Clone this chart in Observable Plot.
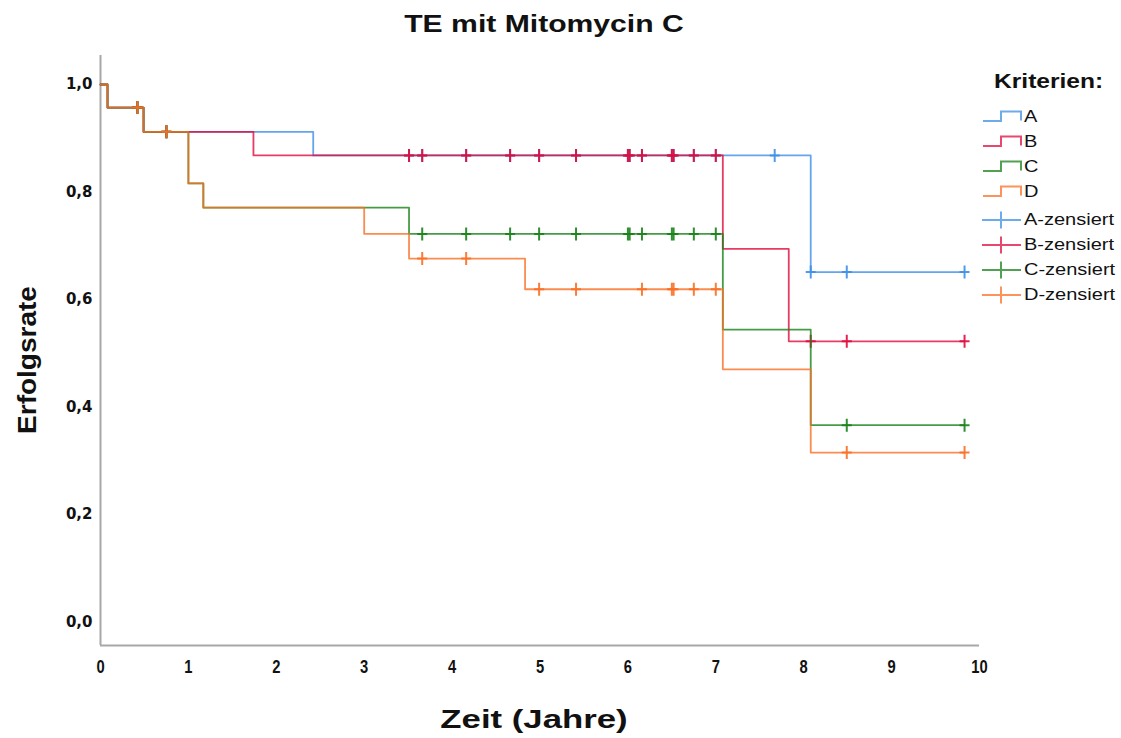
<!DOCTYPE html>
<html><head><meta charset="utf-8">
<script src="https://cdn.jsdelivr.net/npm/d3@7"></script>
<script src="https://cdn.jsdelivr.net/npm/@observablehq/plot@0.6"></script>
<style>
body{margin:0;background:#fff;}
#wrap{position:relative;width:1121px;height:738px;overflow:hidden;background:#fff;font-family:"Liberation Sans",Arial,sans-serif;}
.txt{position:absolute;white-space:nowrap;line-height:1;color:#111;}
#chart{position:absolute;left:0;top:45px;}
</style></head><body>
<div id="wrap"><div id="chart"></div></div>
<script>
// ---- data ----
const SERIES = ["A", "B", "C", "D"];
const COLORS = ["#3d8fe6", "#e00b3d", "#188218", "#f96f24"];
const LEGEND_LABELS = ["A", "B", "C", "D", "A-zensiert", "B-zensiert", "C-zensiert", "D-zensiert"];
const X_TICKS = [0, 1, 2, 3, 4, 5, 6, 7, 8, 9, 10];
const Y_TICKS = [0, 0.2, 0.4, 0.6, 0.8, 1.0];

const A_TIME = [0, 0.08, 0.49, 2.42, 8.08, 9.83];
const A_SURV = [1.000, 0.957, 0.912, 0.868, 0.651, 0.651];
const A_CENS = [0.42, 0.75, 3.51, 3.66, 4.16, 4.66, 4.99, 5.41, 6.00, 6.02, 6.16, 6.50, 6.52, 6.75, 7.00, 7.67, 8.08, 8.49, 9.83];

const B_TIME = [0, 0.08, 0.49, 1.74, 7.08, 7.83, 9.83];
const B_SURV = [1.000, 0.957, 0.912, 0.868, 0.694, 0.522, 0.522];
const B_CENS = [0.42, 0.75, 3.51, 3.66, 4.16, 4.66, 4.99, 5.41, 6.00, 6.02, 6.16, 6.50, 6.52, 6.75, 7.00, 8.08, 8.49, 9.83];

const C_TIME = [0, 0.08, 0.49, 1.00, 1.17, 3.51, 7.08, 8.08, 9.83];
const C_SURV = [1.000, 0.957, 0.912, 0.816, 0.771, 0.722, 0.544, 0.366, 0.366];
const C_CENS = [0.42, 0.75, 3.66, 4.16, 4.66, 4.99, 5.41, 6.00, 6.02, 6.16, 6.50, 6.52, 6.75, 7.00, 8.49, 9.83];

const D_TIME = [0, 0.08, 0.49, 1.00, 1.17, 3.00, 3.51, 4.83, 7.08, 8.08, 9.83];
const D_SURV = [1.000, 0.957, 0.912, 0.816, 0.771, 0.722, 0.676, 0.619, 0.470, 0.315, 0.315];
const D_CENS = [0.42, 0.75, 3.66, 4.16, 4.99, 5.41, 6.16, 6.50, 6.52, 6.75, 7.00, 8.49, 9.83];

const Y_DOMAIN = [-0.044, 1.054];
const X_DOMAIN = [0, 10];

// ---- helpers ----
const TIMES = {A: A_TIME, B: B_TIME, C: C_TIME, D: D_TIME};
const SURVS = {A: A_SURV, B: B_SURV, C: C_SURV, D: D_SURV};
const CENS = {A: A_CENS, B: B_CENS, C: C_CENS, D: D_CENS};
const survAt = (T, S, t) => { let v = S[0]; for (let i = 0; i < T.length; i++) if (T[i] <= t) v = S[i]; return v; };
const stepRows = s => TIMES[s].map((t, i) => ({series: s, t, v: SURVS[s][i]}));
const censRows = s => CENS[s].map(t => ({series: s, t, v: survAt(TIMES[s], SURVS[s], t)}));
const plusSymbol = {draw(ctx) { ctx.moveTo(-5, 0); ctx.lineTo(5, 0); ctx.moveTo(0, -6.5); ctx.lineTo(0, 6.5); }};
const fmt = d => d.toFixed(1).replace(".", ",");

const marks = [
  Plot.ruleX([X_DOMAIN[0]], {stroke: "#a8a8a8", strokeWidth: 2}),
  Plot.ruleY([Y_DOMAIN[0]], {stroke: "#a8a8a8", strokeWidth: 2}),
  // tick labels drawn as text marks through the scales
  Plot.text(Y_TICKS, {x: X_DOMAIN[0], y: d => d, text: fmt, dx: -8, textAnchor: "end",
    fontSize: 15, fontWeight: "bold", fontFamily: "DejaVu Sans", fill: "#111"}),
  Plot.text(X_TICKS, {x: d => d, y: Y_DOMAIN[0], text: d => String(d), dy: 22,
    fontSize: 18, fontWeight: "bold", fontFamily: "Liberation Sans", fill: "#111"})
];
SERIES.forEach((s, i) => {
  marks.push(Plot.line(stepRows(s), {x: "t", y: "v", curve: "step-after", stroke: COLORS[i], strokeWidth: 1.8, strokeOpacity: 0.8}));
  marks.push(Plot.dot(censRows(s), {x: "t", y: "v", symbol: plusSymbol, fill: "none", stroke: COLORS[i], strokeWidth: 2, strokeOpacity: 0.9}));
});

const chart = Plot.plot({
  width: 990, height: 693,
  marginTop: 10, marginBottom: 93, marginLeft: 100, marginRight: 11,
  x: {domain: X_DOMAIN, axis: null},
  y: {domain: Y_DOMAIN, axis: null},
  style: {fontFamily: "Liberation Sans, Arial, sans-serif", color: "#111", background: "transparent", overflow: "visible"},
  marks
});
document.getElementById("chart").appendChild(chart);

// narrow the x tick digits (the reference uses a condensed bold face)
chart.querySelectorAll('g[font-family="Liberation Sans"] text').forEach(t => {
  const tr = t.getAttribute("transform");
  if (tr) t.setAttribute("transform", tr + " scale(0.82,1)");
});

// ---- text elements (title, axis labels, legend) ----
const wrap = document.getElementById("wrap");
function placeText(txt, {cx, cy, size, sx = 1, anchor = "middle", rotate = 0, weight = "bold"}) {
  const el = document.createElement("div");
  el.className = "txt";
  el.textContent = txt;
  el.style.fontSize = size + "px";
  el.style.fontWeight = weight;
  el.style.left = cx + "px";
  el.style.top = cy + "px";
  if (anchor === "middle") {
    el.style.transform = `translate(-50%,-50%) rotate(${rotate}deg) scaleX(${sx})`;
  } else {
    el.style.transformOrigin = "left center";
    el.style.transform = `translate(0,-50%) scaleX(${sx})`;
  }
  wrap.appendChild(el);
  return el;
}
placeText("TE mit Mitomycin C", {cx: 544, cy: 24, size: 23, sx: 1.31});
placeText("Zeit (Jahre)", {cx: 534, cy: 719, size: 25, sx: 1.39});
placeText("Erfolgsrate", {cx: 27, cy: 360, size: 25, sx: 1.12, rotate: -90});
placeText("Kriterien:", {cx: 994, cy: 80, size: 21, sx: 1.17, anchor: "start"});

LEGEND_LABELS.forEach((lab, i) => {
  const cy = 117 + i * 25 + (i >= 4 ? 3 : 0);
  const color = COLORS[i % 4];
  const svg = document.createElementNS("http://www.w3.org/2000/svg", "svg");
  svg.setAttribute("width", 44); svg.setAttribute("height", 24);
  svg.style.position = "absolute"; svg.style.left = "980px"; svg.style.top = (cy - 12) + "px";
  let d;
  if (i < 4) d = "M3,16 H21 V6.5 H41 V15.5";
  else d = "M2,12 H41 M21,3.5 V20.5";
  const p = document.createElementNS("http://www.w3.org/2000/svg", "path");
  p.setAttribute("d", d); p.setAttribute("fill", "none"); p.setAttribute("stroke", color);
  p.setAttribute("stroke-width", 2); p.setAttribute("stroke-opacity", 0.75);
  svg.appendChild(p);
  wrap.appendChild(svg);
  placeText(lab, {cx: 1024, cy, size: 16, sx: 1.25, anchor: "start", weight: "normal"});
});
</script>
</body></html>
